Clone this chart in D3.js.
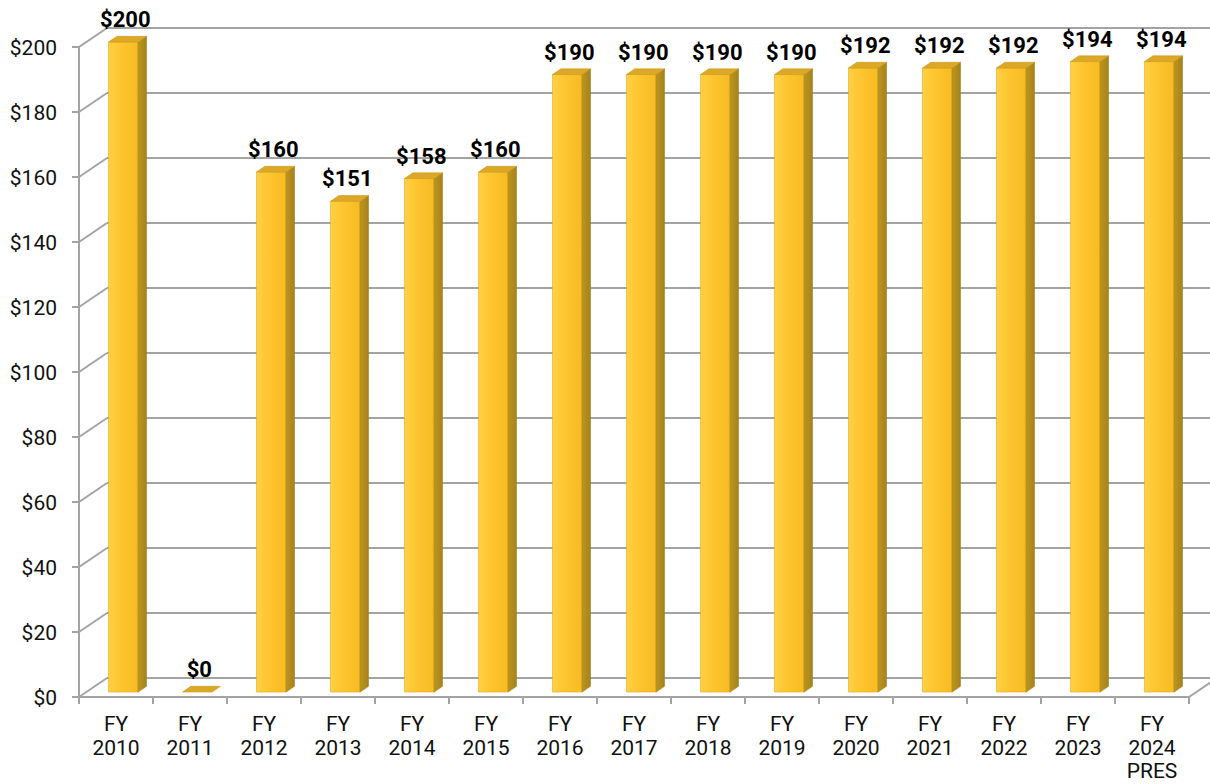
<!DOCTYPE html>
<html>
<head>
<meta charset="utf-8">
<script src="https://cdn.jsdelivr.net/npm/d3@7"></script>
<style>
  html, body { margin: 0; padding: 0; background: #fff; }
  svg { display: block; font-family: Roboto, "Noto Sans", sans-serif; }
</style>
</head>
<body>
<svg id="chart" width="1210" height="784"></svg>
<script>
// ---- data ----
const categories = ["FY 2010","FY 2011","FY 2012","FY 2013","FY 2014","FY 2015","FY 2016","FY 2017","FY 2018","FY 2019","FY 2020","FY 2021","FY 2022","FY 2023","FY 2024 PRES"];
const categoryLines = [["FY","2010"],["FY","2011"],["FY","2012"],["FY","2013"],["FY","2014"],["FY","2015"],["FY","2016"],["FY","2017"],["FY","2018"],["FY","2019"],["FY","2020"],["FY","2021"],["FY","2022"],["FY","2023"],["FY","2024","PRES"]];
const values = [200, 0, 160, 151, 158, 160, 190, 190, 190, 190, 192, 192, 192, 194, 194];
const yTicks = [0, 20, 40, 60, 80, 100, 120, 140, 160, 180, 200];
const yTickLabels = ["$0","$20","$40","$60","$80","$100","$120","$140","$160","$180","$200"];
const valueLabels = values.map(v => "$" + v);

// ---- layout ----
const svg = d3.select("#chart");
const DX = 28, DY = -19;           // full depth offset of the 3D box
const F0 = 0.26, F1 = 0.56;        // bar front/back depth fractions

const x = d3.scaleBand().domain(categories).range([79, 1189]).padding(0);
const y = d3.scaleLinear().domain([0, 200]).range([697, 47]);
const P = (px, py, f) => [px + f * DX, py + f * DY];

const defs = svg.append("defs");
const gFront = defs.append("linearGradient").attr("id", "front").attr("x1", 0).attr("x2", 1).attr("y1", 0).attr("y2", 0);
gFront.append("stop").attr("offset", "0%").attr("stop-color", "#FFD145");
gFront.append("stop").attr("offset", "35%").attr("stop-color", "#FEC632");
gFront.append("stop").attr("offset", "100%").attr("stop-color", "#F7BB22");
const gSide = defs.append("linearGradient").attr("id", "side").attr("x1", 0).attr("x2", 1).attr("y1", 0).attr("y2", 0);
gSide.append("stop").attr("offset", "0%").attr("stop-color", "#BE9620");
gSide.append("stop").attr("offset", "100%").attr("stop-color", "#A5831A");

const gridColor = "#a3a3a3";
const grid = svg.append("g");

// back wall gridlines
grid.selectAll("line.back").data(yTicks).join("line")
  .attr("x1", d => P(x.range()[0], y(d), 1)[0])
  .attr("x2", d => P(x.range()[1], y(d), 1)[0])
  .attr("y1", d => P(0, y(d), 1)[1])
  .attr("y2", d => P(0, y(d), 1)[1])
  .attr("stroke", gridColor).attr("stroke-width", 2);

// side wall diagonals
grid.selectAll("line.side").data(yTicks).join("line")
  .attr("x1", x.range()[0]).attr("y1", d => y(d))
  .attr("x2", d => P(x.range()[0], y(d), 1)[0])
  .attr("y2", d => P(x.range()[0], y(d), 1)[1])
  .attr("stroke", gridColor).attr("stroke-width", 2);

// floor right diagonal
grid.append("line")
  .attr("x1", x.range()[1]).attr("y1", y(0))
  .attr("x2", P(x.range()[1], y(0), 1)[0]).attr("y2", P(0, y(0), 1)[1])
  .attr("stroke", gridColor).attr("stroke-width", 2);

// ---- bars ----
const barW = x.bandwidth() * 0.4;
const bars = svg.append("g").selectAll("g").data(values).join("g");
const fx = (d, i) => x(categories[i]) + x.bandwidth() / 2 - barW / 2;

bars.each(function(v, i) {
  const g = d3.select(this);
  const xl = fx(v, i), xr = xl + barW;
  const yt = y(v), yb = y(0);
  const A = P(xl, yt, F0), B = P(xr, yt, F0), C = P(xr, yb, F0), D = P(xl, yb, F0);
  const B1 = P(xr, yt, F1), C1 = P(xr, yb, F1), A1 = P(xl, yt, F1);
  const poly = pts => "M" + pts.map(p => p.join(",")).join("L") + "Z";
  if (v > 0) {
    g.append("path").attr("d", poly([A, B, C, D])).attr("fill", "url(#front)")
      .attr("stroke", "#e0a820").attr("stroke-width", 0.6);
    g.append("path").attr("d", poly([B, B1, C1, C])).attr("fill", "url(#side)")
      .attr("stroke", "#a07e18").attr("stroke-width", 0.6);
  }
  g.append("path").attr("d", poly([A, A1, B1, B])).attr("fill", "#DDA826")
    .attr("stroke", "#c99a20").attr("stroke-width", 0.6);
  // value label
  g.append("text")
    .attr("x", (xl + xr) / 2 + F0 * DX + 2)
    .attr("y", A[1] - 15)
    .attr("text-anchor", "middle")
    .attr("font-weight", "bold")
    .attr("font-size", 22)
    .attr("fill", "#000")
    .text(valueLabels[i]);
});

// ---- axes ----
const axes = svg.append("g");
// front floor edge / category axis
axes.append("line").attr("x1", x.range()[0]).attr("x2", x.range()[1])
  .attr("y1", y(0)).attr("y2", y(0)).attr("stroke", gridColor).attr("stroke-width", 2);
// value axis
axes.append("line").attr("x1", x.range()[0]).attr("x2", x.range()[0])
  .attr("y1", y(0)).attr("y2", y(200)).attr("stroke", gridColor).attr("stroke-width", 2);
axes.selectAll("line.yt").data(yTicks).join("line")
  .attr("x1", x.range()[0] - 7).attr("x2", x.range()[0])
  .attr("y1", d => y(d)).attr("y2", d => y(d))
  .attr("stroke", gridColor).attr("stroke-width", 2);
axes.selectAll("text.yl").data(yTicks).join("text")
  .attr("x", 57).attr("y", d => y(d)).attr("dy", "0.36em")
  .attr("text-anchor", "end").attr("font-size", 21).attr("fill", "#111")
  .text((d, i) => yTickLabels[i]);

// category ticks at band boundaries
const bounds = categories.map(c => x(c)).concat([x.range()[1]]);
axes.selectAll("line.xt").data(bounds).join("line")
  .attr("x1", d => d).attr("x2", d => d)
  .attr("y1", y(0)).attr("y2", y(0) + 7)
  .attr("stroke", gridColor).attr("stroke-width", 2);

const xl = axes.selectAll("text.xl").data(categories).join("text")
  .attr("x", d => x(d) + x.bandwidth() / 2)
  .attr("y", 731)
  .attr("text-anchor", "middle").attr("font-size", 21).attr("fill", "#111");
xl.each(function(d, i) {
  const t = d3.select(this);
  categoryLines[i].forEach((ln, k) => {
    t.append("tspan").attr("x", x(d) + x.bandwidth() / 2).attr("dy", k === 0 ? 0 : 23.5).text(ln);
  });
});
</script>
</body>
</html>
